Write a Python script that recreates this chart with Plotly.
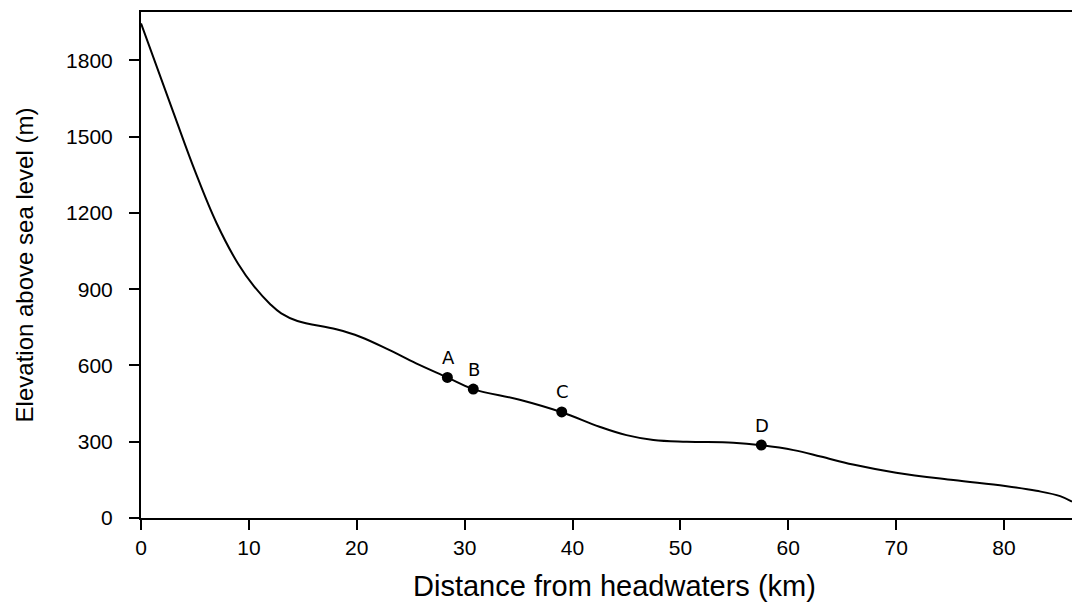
import plotly.graph_objects as go

# River longitudinal profile
distance_km = [0.0, 3.0, 5.0, 7.0, 9.0, 10.5, 12.0, 13.0, 14.5, 18.1, 20.3, 23.0,
               25.5, 28.4, 30.8, 35.1, 39.0, 42.5, 45.0, 47.5, 50.6, 54.9, 57.5,
               60.5, 63.0, 66.0, 70.0, 75.3, 80.1, 83.0, 85.2, 86.3]
elevation_m = [1945, 1595, 1365, 1160, 1000, 910, 840, 805, 775, 742, 713, 661,
               608, 553, 507, 465, 416, 359, 326, 307, 300, 296, 286,
               267, 242, 210, 178, 149, 126, 107, 86, 64]

# Sampling sites
site_labels = ["A", "B", "C", "D"]
site_distance = [28.4, 30.8, 39.0, 57.5]
site_elevation = [553, 507, 417, 287]

x_ticks = [0, 10, 20, 30, 40, 50, 60, 70, 80]
y_ticks = [0, 300, 600, 900, 1200, 1500, 1800]

fig = go.Figure()
fig.add_trace(go.Scatter(
    x=distance_km, y=elevation_m, mode="lines",
    line=dict(color="black", width=2, shape="spline", smoothing=1.1),
    showlegend=False, hoverinfo="skip"))
fig.add_trace(go.Scatter(
    x=site_distance, y=site_elevation, mode="markers",
    marker=dict(color="black", size=11),
    showlegend=False))

for lab, xv, yv in zip(site_labels, site_distance, site_elevation):
    fig.add_annotation(x=xv, y=yv, text=lab, showarrow=False,
                       xanchor="center", yanchor="middle", yshift=20, xshift=1,
                       font=dict(family="DejaVu Sans", size=18, color="black"))

# x-axis title placed as in the reference (centred slightly right of plot centre)
fig.add_annotation(text="Distance from headwaters (km)", showarrow=False,
                   xref="paper", yref="paper", x=0.509, y=-0.134,
                   xanchor="center", yanchor="middle",
                   font=dict(family="Liberation Sans, Arial, sans-serif", size=29, color="black"))

fig.update_layout(
    width=1072, height=604,
    margin=dict(l=141, r=0, t=12, b=86),
    paper_bgcolor="white", plot_bgcolor="white",
    font=dict(family="Liberation Sans, Arial, sans-serif", color="black"),
)
fig.update_xaxes(
    range=[0, 86.3], tickvals=x_ticks, ticktext=[str(v) for v in x_ticks],
    showgrid=False, zeroline=False,
    showline=True, linecolor="black", linewidth=2, mirror=True,
    ticks="outside", ticklen=10, tickwidth=2, tickcolor="black",
    tickfont=dict(size=21),
)
fig.update_yaxes(
    range=[0, 1990], tickvals=y_ticks, ticktext=[str(v) for v in y_ticks],
    showgrid=False, zeroline=False,
    showline=True, linecolor="black", linewidth=2, mirror=False,
    ticks="outside", ticklen=10, tickwidth=2, tickcolor="black",
    tickfont=dict(size=21), ticklabelstandoff=12,
    title=dict(text="Elevation above sea level (m)", font=dict(size=24), standoff=26),
)

fig.write_html("out.html")
